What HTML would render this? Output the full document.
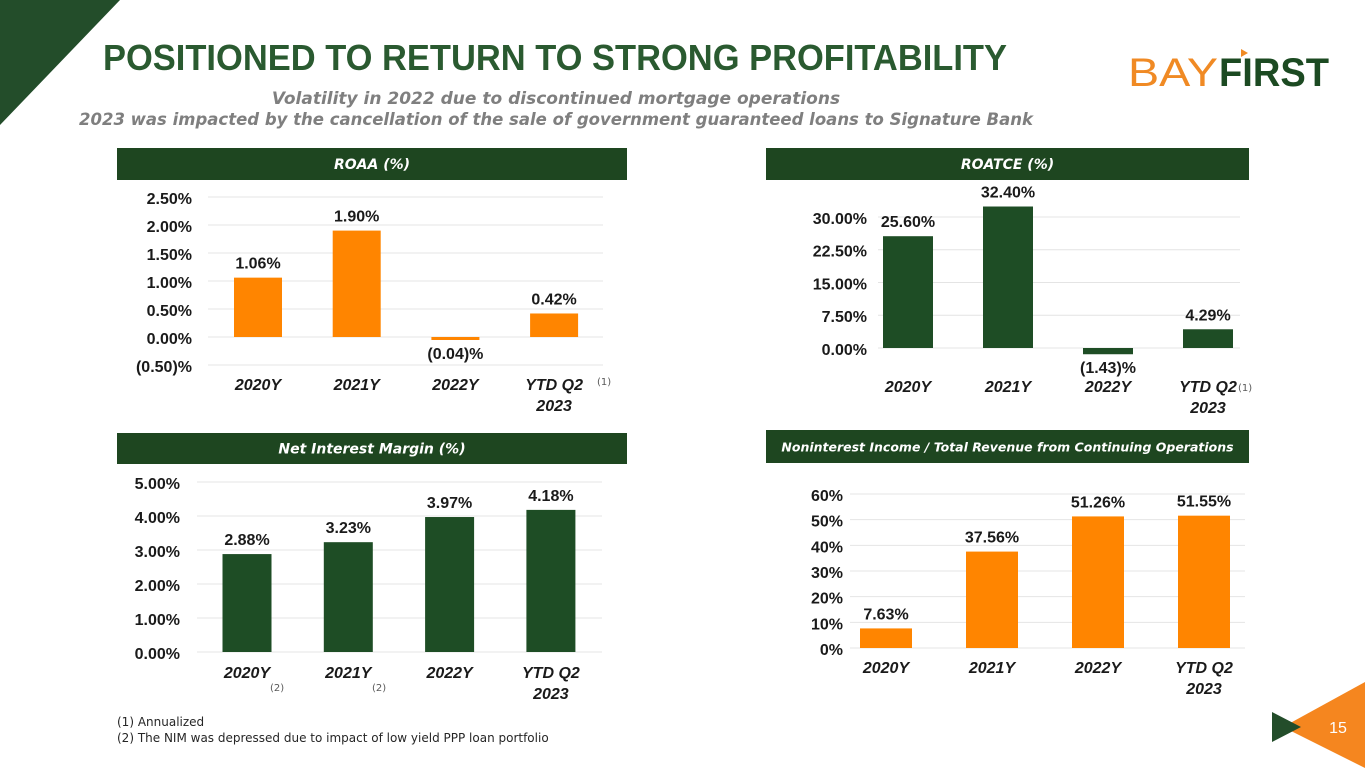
<!DOCTYPE html>
<html><head><meta charset="utf-8"><style>
body{margin:0;width:1365px;height:768px;overflow:hidden;background:#fff;font-family:"Liberation Sans",sans-serif}
svg{display:block}
.t{font-family:"Liberation Sans",sans-serif;font-weight:bold;font-size:16px;fill:#1a1a1a}
</style></head><body>
<svg id="s" width="1365" height="768">
<polygon points="0,0 120,0 0,125" fill="#234d2a"/>
<text x="103" y="70" font-size="36" font-weight="bold" fill="#2a5a30" textLength="904" lengthAdjust="spacingAndGlyphs">POSITIONED TO RETURN TO STRONG PROFITABILITY</text>
<g>
<text x="1128" y="86" font-size="40" fill="#f08a24" textLength="90" lengthAdjust="spacingAndGlyphs">BAY</text>
<text x="1219" y="86" font-size="40" font-weight="bold" fill="#1c4a22" textLength="110" lengthAdjust="spacingAndGlyphs">FIRST</text>
<polygon points="1241,49 1241,57 1248,53" fill="#f08a24"/>
</g>
<text x="556" y="104" text-anchor="middle" font-family="DejaVu Sans" font-style="italic" font-weight="bold" font-size="17" fill="#7f7f7f">Volatility in 2022 due to discontinued mortgage operations</text>
<text x="556" y="125" text-anchor="middle" font-family="DejaVu Sans" font-style="italic" font-weight="bold" font-size="17" fill="#7f7f7f" textLength="954" lengthAdjust="spacingAndGlyphs">2023 was impacted by the cancellation of the sale of government guaranteed loans to Signature Bank</text>
<text x="117" y="726" font-family="DejaVu Sans" font-size="12" fill="#262626">(1) Annualized</text>
<text x="117" y="742" font-family="DejaVu Sans" font-size="12" fill="#262626">(2) The NIM was depressed due to impact of low yield PPP loan portfolio</text>
<polygon points="1283,727 1365,682 1365,768" fill="#f5861f"/>
<polygon points="1272,712 1272,742 1301,727" fill="#234d2a"/>
<text x="1338" y="733" text-anchor="middle" font-size="16" fill="#fff">15</text>
</svg>
<script>
const categories=["2020Y","2021Y","2022Y","YTD Q2|2023"];
const roaaValues=[1.06,1.90,-0.04,0.42];
const roaaLabels=["1.06%","1.90%","(0.04)%","0.42%"];
const roaaTicks=[-0.5,0,0.5,1,1.5,2,2.5];
const roaaTickLabels=["(0.50)%","0.00%","0.50%","1.00%","1.50%","2.00%","2.50%"];
const roatceValues=[25.60,32.40,-1.43,4.29];
const roatceLabels=["25.60%","32.40%","(1.43)%","4.29%"];
const roatceTicks=[0,7.5,15,22.5,30];
const roatceTickLabels=["0.00%","7.50%","15.00%","22.50%","30.00%"];
const nimValues=[2.88,3.23,3.97,4.18];
const nimLabels=["2.88%","3.23%","3.97%","4.18%"];
const nimTicks=[0,1,2,3,4,5];
const nimTickLabels=["0.00%","1.00%","2.00%","3.00%","4.00%","5.00%"];
const nonintValues=[7.63,37.56,51.26,51.55];
const nonintLabels=["7.63%","37.56%","51.26%","51.55%"];
const nonintTicks=[0,10,20,30,40,50,60];
const nonintTickLabels=["0%","10%","20%","30%","40%","50%","60%"];

const S=document.getElementById('s');const NS="http://www.w3.org/2000/svg";
function mk(tag,attrs,parent){const e=document.createElementNS(NS,tag);for(const k in attrs)e.setAttribute(k,attrs[k]);(parent||S).appendChild(e);return e;}
function chart(o){
  const g=mk('g',{});
  
  
  const hb=mk('rect',{x:o.hx,y:o.hy,width:o.hw,height:o.hh,fill:'#1e4620'},g);
  
  
  const ht=mk('text',{x:o.hx+o.hw/2,y:o.hy+o.hh/2+5,'text-anchor':'middle',fill:'#fff','font-family':'DejaVu Sans','font-style':'italic','font-weight':'bold','font-size':o.hfs||14},g);
  ht.textContent=o.title;
  
  
  const y=v=>o.y0-v*o.k;
  const x=i=>o.x0+i*o.dx;
  o.ticks.forEach((t,i)=>{
    const l=mk('line',{x1:o.gx1,x2:o.gx2,y1:y(t),y2:y(t),stroke:'#e4e4e4','stroke-width':1},g);
    
    
    const tl=mk('text',{x:o.lx,y:y(t)+7,'text-anchor':'end',class:'t'},g);
    tl.textContent=o.tickLabels[i];
    
    
  });
  o.values.forEach((v,i)=>{
    const top=Math.min(y(v),y(0)),h=Math.max(Math.abs(y(v)-y(0)),3);
    const b=mk('rect',{x:x(i)-o.bw/2,y:top,width:o.bw,height:h,fill:o.color},g);
    
    
    const ly=v>=0?y(v)-9:y(0)+h+19;
    const lt=mk('text',{x:x(i),y:ly,'text-anchor':'middle',class:'t'},g);
    lt.textContent=o.labels[i];
    
    
    categories[i].split('|').forEach((p,j)=>{
      const c=mk('text',{x:x(i),y:o.cy+j*21,'text-anchor':'middle',class:'t','font-style':'italic'},g);
      c.textContent=p;
      
      
    });
  });
  (o.notes||[]).forEach(n=>{
    const t=mk('text',{x:n[0],y:n[1],fill:'#595959','font-size':10,'font-family':'DejaVu Sans'},g);
    t.textContent=n[2];
    
    
  });
}
chart({name:'roaa-chart',title:'ROAA (%)',hx:117,hy:148,hw:510,hh:32,values:roaaValues,labels:roaaLabels,ticks:roaaTicks,tickLabels:roaaTickLabels,
 y0:337,k:56,x0:258,dx:98.7,bw:48,gx1:208,gx2:603,lx:192,cy:390,color:'#ff8500',notes:[[597,385,'(1)']]});
chart({name:'roatce-chart',title:'ROATCE (%)',hx:766,hy:148,hw:483,hh:32,values:roatceValues,labels:roatceLabels,ticks:roatceTicks,tickLabels:roatceTickLabels,
 y0:348,k:4.367,x0:908,dx:100,bw:50,gx1:878,gx2:1240,lx:867,cy:392,color:'#1e4d25',notes:[[1238,391,'(1)']]});
chart({name:'nim-chart',title:'Net Interest Margin (%)',hx:117,hy:433,hw:510,hh:31,values:nimValues,labels:nimLabels,ticks:nimTicks,tickLabels:nimTickLabels,
 y0:652,k:34,x0:247,dx:101.3,bw:49,gx1:197,gx2:602,lx:180,cy:678,color:'#1e4d25',notes:[[270,691,'(2)'],[372,691,'(2)']]});
chart({name:'noninterest-chart',title:'Noninterest Income / Total Revenue from Continuing Operations',hfs:12.5,hx:766,hy:430,hw:483,hh:33,values:nonintValues,labels:nonintLabels,ticks:nonintTicks,tickLabels:nonintTickLabels,
 y0:648,k:2.567,x0:886,dx:106,bw:52,gx1:850,gx2:1245,lx:843,cy:673,color:'#ff8500'});
</script>
</body></html>
